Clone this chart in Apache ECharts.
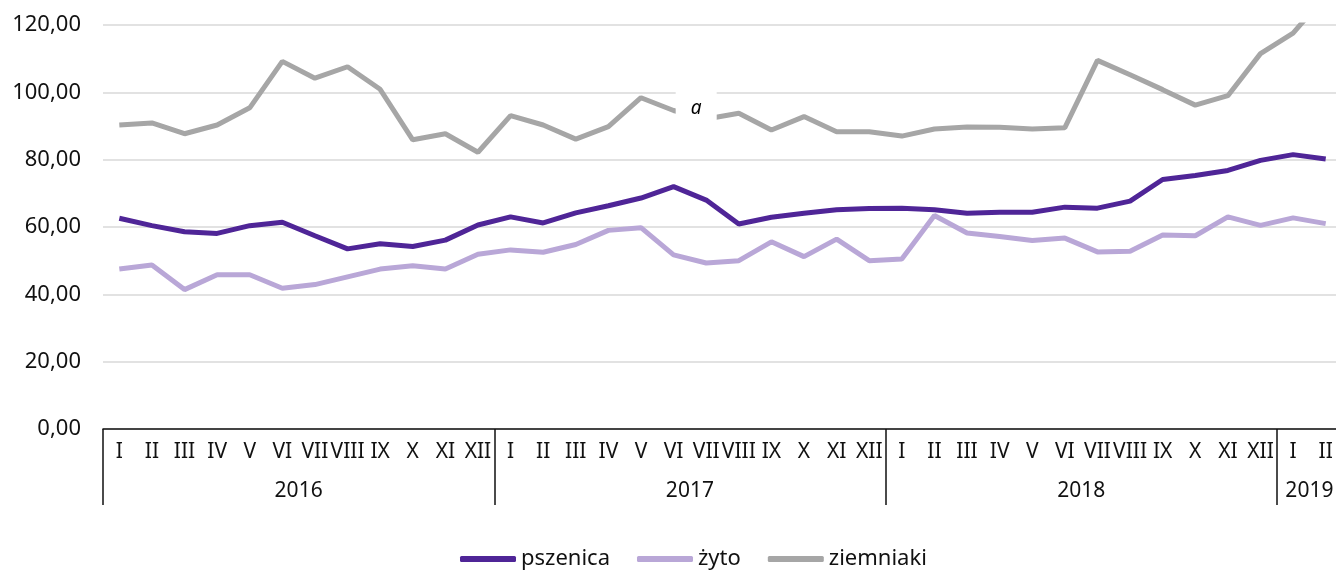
<!DOCTYPE html>
<html>
<head>
<meta charset="utf-8">
<script src="https://cdn.jsdelivr.net/npm/echarts@6/dist/echarts.min.js"></script>
<style>
  html, body { margin: 0; padding: 0; background: #fff; }
  #chart { width: 1336px; height: 575px; }
</style>
</head>
<body>
<div id="chart"></div>
<script>
var months = ['I','II','III','IV','V','VI','VII','VIII','IX','X','XI','XII',
              'I','II','III','IV','V','VI','VII','VIII','IX','X','XI','XII',
              'I','II','III','IV','V','VI','VII','VIII','IX','X','XI','XII',
              'I','II'];
var years = ['2016', '2017', '2018', '2019'];
var monthsPerYear = [12, 12, 12, 2];

var pszenica = [62.6, 60.4, 58.6, 58.1, 60.4, 61.4, 57.4, 53.5, 55.0, 54.2, 56.1, 60.6,
                63.0, 61.2, 64.2, 66.3, 68.6, 72.0, 68.0, 60.9, 62.9, 64.1, 65.1, 65.5,
                65.6, 65.1, 64.1, 64.4, 64.4, 65.9, 65.6, 67.7, 74.1, 75.3, 76.8, 79.8,
                81.5, 80.2];
var zyto = [47.5, 48.7, 41.4, 45.8, 45.8, 41.8, 42.9, 45.2, 47.5, 48.5, 47.5, 51.9,
            53.2, 52.5, 54.8, 59.0, 59.8, 51.7, 49.3, 50.0, 55.6, 51.2, 56.4, 50.0,
            50.5, 63.4, 58.2, 57.2, 56.0, 56.7, 52.6, 52.8, 57.6, 57.4, 63.0, 60.5,
            62.7, 61.0];
var ziemniaki = [90.3, 90.9, 87.7, 90.3, 95.4, 109.2, 104.2, 107.6, 100.9, 85.9, 87.7, 82.2,
                 93.1, 90.3, 86.1, 89.8, 98.4, 94.6, 92.1, 93.8, 88.8, 92.8, 88.3, 88.3,
                 87.0, 89.1, 89.7, 89.6, 89.1, 89.5, 109.5, 105.2, 100.8, 96.2, 99.0, 111.5,
                 117.6, 128.7];
var noteIndex = 18;   // ziemniaki VII 2017, footnote "a"

// year boundaries and centres in category units
var yearEdges = [0], yearCenters = [];
monthsPerYear.forEach(function (n, i) {
  yearCenters.push(yearEdges[i] + n / 2);
  yearEdges.push(yearEdges[i] + n);
});

var font = '"Noto Sans", sans-serif';

var myChart = echarts.init(document.getElementById('chart'));

option = {
  animation: false,
  textStyle: { fontFamily: font },
  grid: { left: 103, width: 1239, top: 25, bottom: 146, outerBoundsMode: 'none' },
  legend: {
    bottom: 0,
    left: 455,
    itemWidth: 56,
    itemHeight: 6,
    itemGap: 27,
    icon: 'roundRect',
    textStyle: { fontSize: 22, color: '#111', fontFamily: font },
    data: ['pszenica', 'żyto', 'ziemniaki']
  },
  xAxis: [
    {
      type: 'category',
      data: months,
      boundaryGap: true,
      axisLine: { lineStyle: { color: '#111', width: 1.5 } },
      axisTick: { show: false },
      axisLabel: { interval: 0, margin: 13, fontSize: 21, color: '#111', fontFamily: font }
    },
    {
      type: 'value',
      min: 0,
      max: months.length,
      position: 'bottom',
      axisLine: { show: false },
      splitLine: { show: false },
      axisTick: {
        show: true,
        customValues: yearEdges,
        length: 76,
        lineStyle: { color: '#111', width: 1.5 }
      },
      axisLabel: {
        customValues: yearCenters,
        margin: 52,
        fontSize: 21,
        color: '#111',
        fontFamily: font,
        formatter: function (v) {
          return years[yearCenters.indexOf(v)];
        }
      }
    }
  ],
  yAxis: {
    type: 'value',
    min: 0,
    max: 120,
    interval: 20,
    axisLine: { show: false },
    axisTick: { show: false },
    splitLine: { lineStyle: { color: '#d9d9d9', width: 1.5 } },
    axisLabel: {
      margin: 22,
      fontSize: 22,
      color: '#111',
      fontFamily: font,
      formatter: function (v) { return v.toFixed(2).replace('.', ','); }
    }
  },
  series: [
    {
      name: 'pszenica', type: 'line', data: pszenica, symbol: 'none',
      lineStyle: { color: '#4f2597', width: 5 }, itemStyle: { color: '#4f2597' }
    },
    {
      name: 'żyto', type: 'line', data: zyto, symbol: 'none',
      lineStyle: { color: '#b9a7d7', width: 5 }, itemStyle: { color: '#b9a7d7' }
    },
    {
      name: 'ziemniaki', type: 'line', data: ziemniaki, symbol: 'none',
      lineStyle: { color: '#a6a6a6', width: 5 }, itemStyle: { color: '#a6a6a6' },
      markPoint: {
        silent: true,
        symbol: 'rect',
        symbolSize: [41, 36],
        symbolOffset: [-10, -10],
        itemStyle: { color: '#fff' },
        label: {
          show: true,
          formatter: 'a',
          color: '#000',
          fontStyle: 'italic',
          fontSize: 19,
          fontFamily: font
        },
        data: [{ coord: [noteIndex, ziemniaki[noteIndex]] }]
      }
    }
  ]
};

myChart.setOption(option);
</script>
</body>
</html>
